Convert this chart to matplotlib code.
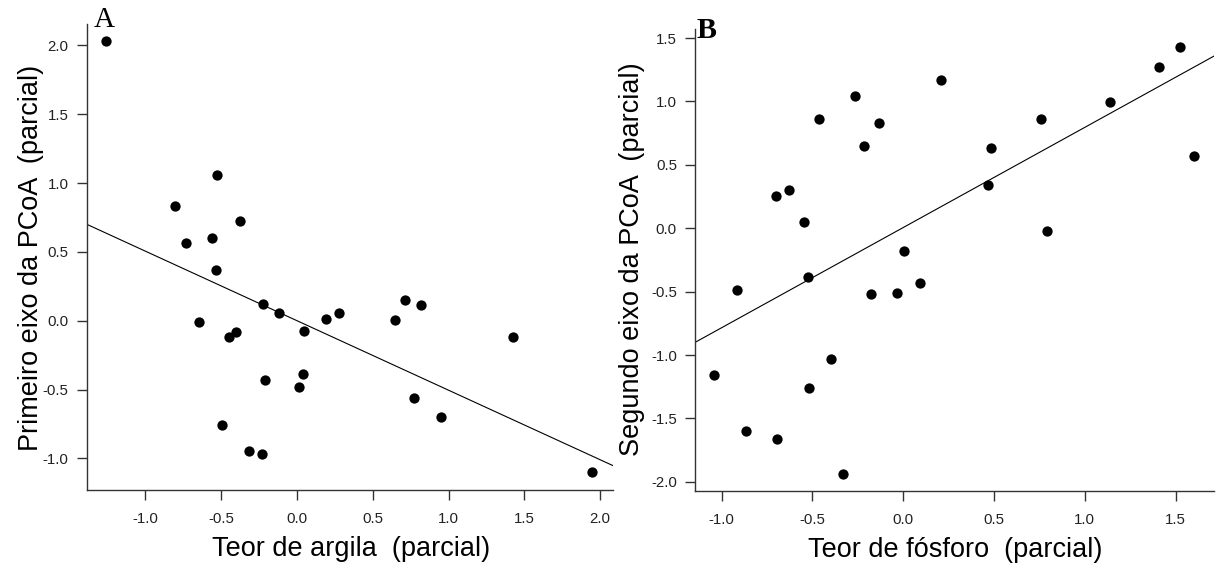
import matplotlib
matplotlib.use("Agg")
import matplotlib.pyplot as plt
from matplotlib.ticker import FormatStrFormatter

plt.rcParams['font.family'] = ['Liberation Sans', 'DejaVu Sans']
plt.rcParams['axes.unicode_minus'] = False

# ---- Panel A data: clay content (partial) vs first PCoA axis (partial)
argila_x = [-1.258, -0.527, -0.806, -0.378, -0.736, -0.561, -0.532, -0.222,
            -0.117, -0.647, -0.451, -0.402, 0.044, 0.193, 0.279, 0.645,
            0.710, 0.819, 1.425, -0.209, 0.037, 0.016, -0.498, -0.316,
            -0.230, 0.775, 0.947, 1.949]
pcoa1_y = [2.029, 1.056, 0.831, 0.728, 0.563, 0.603, 0.370, 0.124,
           0.058, -0.011, -0.116, -0.085, -0.074, 0.013, 0.056, 0.008,
           0.151, 0.116, -0.116, -0.431, -0.389, -0.484, -0.759, -0.944,
           -0.971, -0.561, -0.698, -1.101]
fit_a = (0.0, -0.505)   # intercept, slope

# ---- Panel B data: phosphorus content (partial) vs second PCoA axis (partial)
fosforo_x = [1.524, 1.408, 1.140, 1.600, 0.209, -0.266, -0.462, -0.132,
             -0.218, 0.760, 0.484, 0.468, 0.794, -0.702, -0.626, -0.546,
             -0.522, 0.004, -0.913, -0.175, -0.035, 0.093, -0.397, -1.041,
             -0.518, -0.866, -0.693, -0.330]
pcoa2_y = [1.427, 1.272, 0.994, 0.567, 1.172, 1.046, 0.862, 0.831,
           0.648, 0.862, 0.633, 0.338, -0.020, 0.252, 0.304, 0.046,
           -0.381, -0.181, -0.484, -0.521, -0.507, -0.433, -1.029, -1.160,
           -1.258, -1.596, -1.662, -1.937]
fit_b = (0.005, 0.790)

xticks_a = [-1.0, -0.5, 0.0, 0.5, 1.0, 1.5, 2.0]
yticks_a = [-1.0, -0.5, 0.0, 0.5, 1.0, 1.5, 2.0]
xticks_b = [-1.0, -0.5, 0.0, 0.5, 1.0, 1.5]
yticks_b = [-2.0, -1.5, -1.0, -0.5, 0.0, 0.5, 1.0, 1.5]

fig = plt.figure(figsize=(12.16, 5.69), dpi=100)
axA = fig.add_axes([86.7/1216, 79/569, 526/1216, 466/569])
axB = fig.add_axes([695/1216, 78/569, 519/1216, 462/569])

spine_col = '#333333'
tick_col = '#222222'

def style(ax, xt, yt, xlim, ylim, xlabel, ylabel, ylab_x, ylab_y):
    ax.set_xlim(*xlim)
    ax.set_ylim(*ylim)
    ax.set_xticks(xt)
    ax.set_yticks(yt)
    ax.xaxis.set_major_formatter(FormatStrFormatter('%.1f'))
    ax.yaxis.set_major_formatter(FormatStrFormatter('%.1f'))
    for s in ['top', 'right']:
        ax.spines[s].set_visible(False)
    for s in ['left', 'bottom']:
        ax.spines[s].set_color(spine_col)
        ax.spines[s].set_linewidth(1.0)
    ax.tick_params(axis='both', length=7, width=1.0, color=spine_col,
                   labelsize=10.8, labelcolor=tick_col)
    ax.tick_params(axis='x', pad=9)
    ax.tick_params(axis='y', pad=6)
    ax.set_xlabel(xlabel, fontsize=19.5, color='black')
    ax.set_ylabel(ylabel, fontsize=19.5, color='black')
    ax.xaxis.set_label_coords(0.502, -0.099)
    ax.yaxis.set_label_coords(ylab_x, ylab_y)

# Panel A
axA.scatter(argila_x, pcoa1_y, s=55, color='black', zorder=3, linewidths=0)
axA.axline((0, fit_a[0]), slope=fit_a[1], color='black', lw=0.8)
style(axA, xticks_a, yticks_a, (-1.388, 2.083), (-1.23, 2.156),
      'Teor de argila  (parcial)', 'Primeiro eixo da PCoA  (parcial)', -0.082, 0.497)
fig.text(93.5/1216, 1 - 26.7/569, 'A', family=['Liberation Serif', 'DejaVu Serif'],
         fontsize=21, ha='left', va='baseline')

# Panel B
axB.scatter(fosforo_x, pcoa2_y, s=55, color='black', zorder=3, linewidths=0)
axB.axline((0, fit_b[0]), slope=fit_b[1], color='black', lw=0.8)
style(axB, xticks_b, yticks_b, (-1.146, 1.712), (-2.072, 1.571),
      'Teor de fósforo  (parcial)', 'Segundo eixo da PCoA  (parcial)', -0.097, 0.501)
fig.text(696.5/1216, 1 - 38.3/569, 'B', family=['Liberation Serif', 'DejaVu Serif'],
         fontsize=21.5, fontweight='bold', ha='left', va='baseline')

fig.savefig('out.png', dpi=100)
